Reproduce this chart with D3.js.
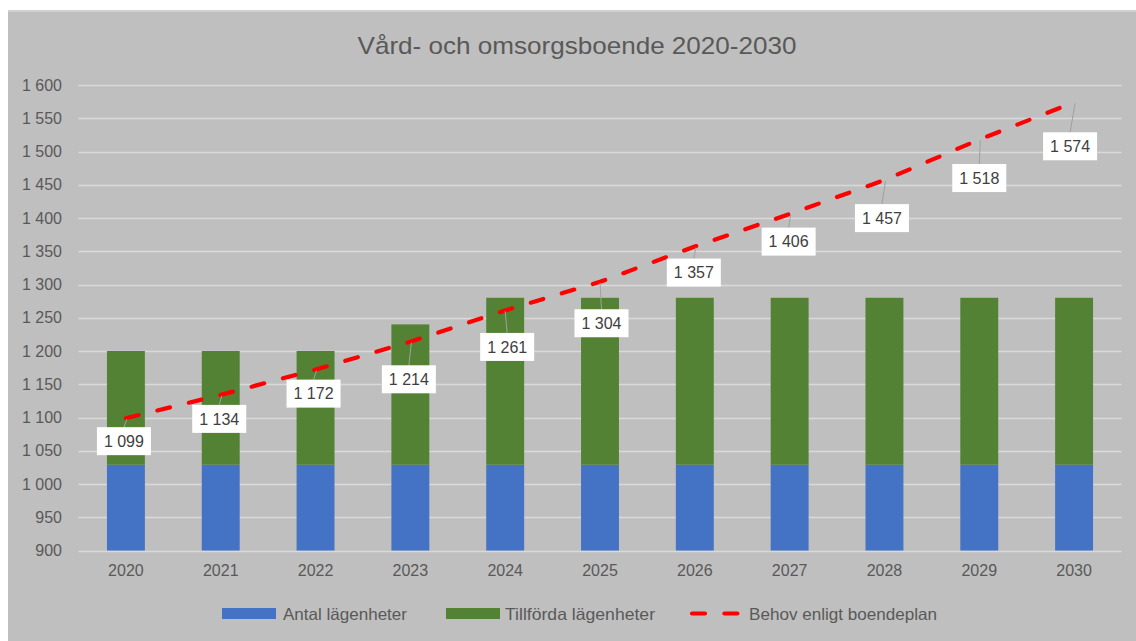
<!DOCTYPE html>
<html><head><meta charset="utf-8">
<script src="https://cdn.jsdelivr.net/npm/d3@7"></script>
<style>
body{margin:0;background:#fff}
svg{display:block}
text{font-family:"Liberation Sans",Arial,sans-serif}
</style>
</head><body>
<svg id="c" width="1136" height="641"></svg>
<script>
// ---------- data ----------
const categories = ["2020","2021","2022","2023","2024","2025","2026","2027","2028","2029","2030"];
const antalLagenheter = [1029,1029,1029,1029,1029,1029,1029,1029,1029,1029,1029];
const tillfordaLagenheter = [171,171,171,211,251,251,251,251,251,251,251];
const behovBoendeplan = [1099,1134,1172,1214,1261,1304,1357,1406,1457,1518,1574];
const yTicks = [900,950,1000,1050,1100,1150,1200,1250,1300,1350,1400,1450,1500,1550,1600];
const seriesNames = ["Antal lägenheter","Tillförda lägenheter","Behov enligt boendeplan"];
const titleText = "Vård- och omsorgsboende 2020-2030";

// ---------- layout (not data) ----------
const W = 1136, H = 641;
const plot = {left: 78.5, right: 1121.5, top: 85, bottom: 550.5};
const labelOffsets = [[-2,23],[-1.5,24],[-2,24],[-1.5,37.6],[2,36.5],[1.5,41.4],[-1,26],[-1,27.6],[-2.5,38],[0,38.5],[-4,44]];
const colors = {blue:"#4472c4", green:"#548235", red:"#ff0000", bg:"#bfbfbf", grid:"#d9d9d9", text:"#595959"};

const svg = d3.select("#c");
svg.append("rect").attr("x",8).attr("y",10).attr("width",W-8).attr("height",H-10).attr("fill",colors.bg);
svg.append("rect").attr("x",8).attr("y",10).attr("width",W-8).attr("height",2).attr("fill","#d0d0d0");

const locale = d3.formatLocale({decimal:",", thousands:" ", grouping:[3], currency:["","kr"]});
const fmt = locale.format(",d");

const x = d3.scaleBand().domain(categories).range([plot.left, plot.right]).padding(0);
const y = d3.scaleLinear().domain([900,1600]).range([plot.bottom, plot.top]);
const barW = x.bandwidth()*0.4;
const cx = c => x(c) + x.bandwidth()/2;

// gridlines
svg.append("g").selectAll("line").data(yTicks).join("line")
  .attr("x1",plot.left).attr("x2",plot.right)
  .attr("y1",d=>Math.round(y(d))+0.5).attr("y2",d=>Math.round(y(d))+0.5)
  .attr("stroke",colors.grid).attr("stroke-width",1.3);

// y axis labels
const yAxis = d3.axisLeft(y).tickValues(yTicks).tickFormat(fmt).tickSize(0).tickPadding(0);
const gy = svg.append("g").attr("transform",`translate(62,0)`).call(yAxis);
gy.select(".domain").remove();
gy.selectAll("text").attr("font-size",16).attr("fill",colors.text).attr("font-family","Liberation Sans, Arial, sans-serif");

// x axis labels
const xAxis = d3.axisBottom(x).tickSize(0).tickPadding(0);
const gx = svg.append("g").attr("transform",`translate(0,${plot.bottom})`).call(xAxis);
gx.select(".domain").remove();
gx.selectAll("text").attr("font-size",16).attr("fill",colors.text).attr("dy","1.6em").attr("font-family","Liberation Sans, Arial, sans-serif");

// stacked bars
const table = categories.map((c,i)=>({cat:c, antal:antalLagenheter[i], tillforda:tillfordaLagenheter[i]}));
const stack = d3.stack().keys(["antal","tillforda"])(table);
const barColors = [colors.blue, colors.green];
svg.append("g").selectAll("g").data(stack).join("g").attr("fill",(d,i)=>barColors[i])
  .selectAll("rect").data(d=>d).join("rect")
  .attr("x",d=>cx(d.data.cat)-barW/2).attr("width",barW)
  .attr("y",d=>y(Math.min(d[1],1600))).attr("height",d=>y(Math.max(d[0],900))-y(Math.min(d[1],1600)));

// line
const line = d3.line().x((d,i)=>cx(categories[i])).y(d=>y(d));
svg.append("path").datum(behovBoendeplan).attr("d",line)
  .attr("fill","none").attr("stroke",colors.red).attr("stroke-width",4.2)
  .attr("stroke-dasharray","13,19.4").attr("stroke-linecap","round");

// data labels
const bw = 54, bh = 28;
const lab = svg.append("g");
behovBoendeplan.forEach((v,i)=>{
  const px = cx(categories[i]), py = y(v);
  const [dx,dy] = labelOffsets[i];
  const bx = px+dx, by = py+dy;
  if (dy - bh/2 > 8) {
    lab.append("line").attr("x1",px+ (dx>0?0:1)).attr("y1",py+1).attr("x2",bx).attr("y2",by-bh/2)
      .attr("stroke","#a0a0a0").attr("stroke-width",1);
  }
  lab.append("rect").attr("x",bx-bw/2).attr("y",by-bh/2).attr("width",bw).attr("height",bh).attr("fill","#fff");
  lab.append("text").attr("x",bx).attr("y",by).attr("dy","0.36em").attr("text-anchor","middle")
    .attr("font-size",16).attr("fill","#404040").text(fmt(v));
});

// title
svg.append("text").attr("x",577).attr("y",54).attr("text-anchor","middle")
  .attr("font-size",24).attr("fill",colors.text)
  .attr("textLength",439).attr("lengthAdjust","spacingAndGlyphs").text(titleText);

// legend
const lg = svg.append("g");
const legendItems = [
  {name:seriesNames[0], type:"rect", color:colors.blue, x:222, tx:283, tw:124},
  {name:seriesNames[1], type:"rect", color:colors.green, x:446, tx:505, tw:150},
  {name:seriesNames[2], type:"line", color:colors.red, x:690, tx:749, tw:188}
];
legendItems.forEach(it=>{
  if (it.type==="rect") {
    lg.append("rect").attr("x",it.x).attr("y",608).attr("width",54).attr("height",11).attr("fill",it.color);
  } else {
    lg.append("line").attr("x1",it.x+2).attr("x2",it.x+50).attr("y1",613.5).attr("y2",613.5)
      .attr("stroke",it.color).attr("stroke-width",4.2).attr("stroke-dasharray","13,19.4").attr("stroke-linecap","round");
  }
  lg.append("text").attr("x",it.tx).attr("y",619.5).attr("font-size",16.5).attr("fill",colors.text)
    .attr("textLength",it.tw).attr("lengthAdjust","spacingAndGlyphs").text(it.name);
});
</script>
</body></html>
